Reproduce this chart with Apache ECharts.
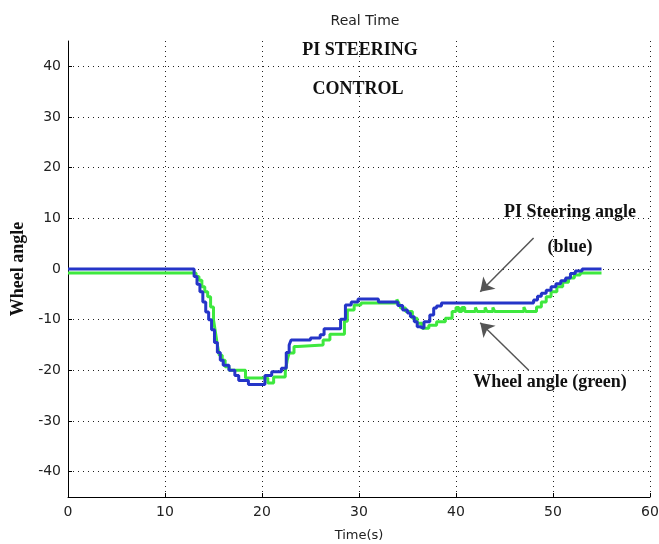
<!DOCTYPE html>
<html>
<head>
<meta charset="utf-8">
<script src="https://cdn.jsdelivr.net/npm/echarts@6/dist/echarts.min.js"></script>
<style>
    html, body { margin: 0; padding: 0; background: #fff; }
    #chart { width: 659px; height: 544px; }
</style>
</head>
<body>
<div id="chart"></div>
<script>
// PI steering angle (blue), [time, angle], held until next point
var blueTime = [0, 13.0, 13.3, 13.6, 13.9, 14.2, 14.5, 14.8, 15.1, 15.4, 15.7, 16.0, 16.6, 17.2, 17.6, 18.6,
    20.3, 21.0, 22.0, 22.5, 22.8, 23.0, 25.0, 26.0, 26.4, 28.1, 28.6, 29.2, 29.9, 32.0, 34.0, 34.5,
    35.0, 35.3, 35.7, 36.0, 36.3, 36.7, 37.3, 37.7, 38.0, 38.5, 48.0, 48.4, 48.8, 49.3, 49.8, 50.3,
    50.8, 51.3, 51.8, 52.3, 53.0, 55.0];
var blueAngle = [0, -1.5, -3, -4.5, -6.5, -8.5, -10, -12, -14.5, -16.5, -18, -19, -20, -21, -22, -22.8,
    -21, -20.3, -19.6, -16.5, -15, -14, -13.6, -13, -11.8, -9.9, -7.1, -6.5, -5.9, -6.5, -7.2, -8.1,
    -8.7, -9.4, -10.4, -11.4, -11.7, -10.4, -9.1, -7.7, -7.3, -6.7, -6.1, -5.4, -4.8, -4.2, -3.5, -2.9,
    -2.3, -1.8, -0.9, -0.4, 0, 0];

// wheel angle (green)
var greenTime = [0, 13.2, 13.5, 13.8, 14.1, 14.4, 14.7, 15.0, 15.2, 15.4, 15.6, 15.9, 16.2, 16.6, 18.3,
    20.6, 21.2, 22.4, 22.6, 22.8, 23.3, 23.7, 26.3, 27.0, 28.5, 28.8, 29.5, 30.2, 33.9, 34.1, 34.3,
    34.8, 35.5, 36.0, 36.5, 37.2, 38.0, 38.9, 39.6, 40.0, 40.3, 40.6, 40.9, 42.0, 42.2, 43.0, 43.2,
    43.8, 44.0, 47.0, 47.2, 48.3, 48.8, 49.3, 49.8, 50.4, 51.0, 51.6, 52.2, 52.8, 55.0];
var greenAngle = [-0.8, -1.5, -2.2, -3.5, -4.5, -5.5, -7.5, -10, -12.5, -15, -17, -18, -19.3, -20, -21.5,
    -22.5, -21.3, -20.3, -18, -16.6, -15.3, -15, -14, -12.9, -10.3, -8.1, -7.1, -6.7, -6.0, -6.7, -7.7,
    -8.4, -9.7, -10.7, -11.7, -11.1, -10.4, -9.7, -8.4, -7.6, -8.4, -7.6, -8.4, -7.6, -8.4, -7.6, -8.4,
    -7.6, -8.4, -7.5, -8.4, -7.5, -6.5, -5.5, -4.5, -3.5, -2.6, -1.8, -1.2, -0.8, -0.8];

var xTicks = [0, 10, 20, 30, 40, 50, 60];
var yTicks = [-40, -30, -20, -10, 0, 10, 20, 30, 40];

function pairs(xs, ys) {
    var out = [];
    for (var i = 0; i < xs.length; i++) out.push([xs[i], ys[i]]);
    return out;
}

var chart = echarts.init(document.getElementById('chart'));
var sans = '"DejaVu Sans", Arial, sans-serif';
var serif = '"Liberation Serif", "Times New Roman", serif';
var dotted = { color: '#222', width: 1, type: [1, 4] };

var option = {
    animation: false,
    backgroundColor: '#fff',
    title: {
        text: 'Real Time',
        left: 360, top: 9, textAlign: 'center',
        textStyle: { fontFamily: sans, fontSize: 14, fontWeight: 'normal', color: '#222' }
    },
    grid: { left: 68, right: 9, top: 41, bottom: 47, outerBoundsMode: 'none', containLabel: false },
    xAxis: {
        type: 'value', min: 0, max: 60,
        name: 'Time(s)', nameLocation: 'middle', nameGap: 32,
        nameTextStyle: { fontFamily: sans, fontSize: 13, color: '#222' },
        axisLine: { show: true, onZero: false, lineStyle: { color: '#000', width: 1 } },
        axisTick: { show: true, inside: true, length: 4, customValues: xTicks, lineStyle: { color: '#000' } },
        axisLabel: { fontFamily: sans, fontSize: 14, color: '#222', margin: 8, customValues: xTicks },
        splitLine: { show: true, lineStyle: dotted }
    },
    yAxis: {
        type: 'value', min: -45, max: 45,
        name: 'Wheel angle', nameLocation: 'middle', nameGap: 41,
        nameTextStyle: { fontFamily: serif, fontSize: 18, fontWeight: 'bold', color: '#111' },
        axisLine: { show: true, onZero: false, lineStyle: { color: '#000', width: 1 } },
        axisTick: { show: true, inside: true, length: 4, customValues: yTicks, lineStyle: { color: '#000' } },
        axisLabel: { fontFamily: sans, fontSize: 14, color: '#222', margin: 7, customValues: yTicks },
        splitLine: { show: true, lineStyle: dotted }
    },
    series: [
        {
            name: 'Wheel angle', type: 'line', step: 'end', symbol: 'none',
            data: pairs(greenTime, greenAngle),
            lineStyle: { color: '#3ee83e', width: 3 },
            z: 3
        },
        {
            name: 'PI Steering angle', type: 'line', step: 'end', symbol: 'none',
            data: pairs(blueTime, blueAngle),
            lineStyle: { color: '#2535c8', width: 3 },
            z: 4,
            markLine: {
                silent: true,
                symbol: ['none', 'arrow'],
                symbolSize: 13,
                label: { show: false },
                lineStyle: { color: '#555', width: 1.5, type: 'solid' },
                data: [
                    [{ coord: [48.0, 6.1] }, { coord: [42.5, -4.5] }],
                    [{ coord: [47.5, -20.0] }, { coord: [42.5, -10.6] }]
                ]
            }
        }
    ],
    graphic: [
        { type: 'text', x: 360, y: 50, style: { text: 'PI STEERING', font: 'bold 18px ' + serif, fill: '#111', textAlign: 'center', textVerticalAlign: 'middle' } },
        { type: 'text', x: 358, y: 89, style: { text: 'CONTROL', font: 'bold 18px ' + serif, fill: '#111', textAlign: 'center', textVerticalAlign: 'middle' } },
        { type: 'text', x: 570, y: 212, style: { text: 'PI Steering angle', font: 'bold 18px ' + serif, fill: '#111', textAlign: 'center', textVerticalAlign: 'middle' } },
        { type: 'text', x: 570, y: 247, style: { text: '(blue)', font: 'bold 18px ' + serif, fill: '#111', textAlign: 'center', textVerticalAlign: 'middle' } },
        { type: 'text', x: 550, y: 382, style: { text: 'Wheel angle (green)', font: 'bold 18px ' + serif, fill: '#111', textAlign: 'center', textVerticalAlign: 'middle' } }
    ]
};

chart.setOption(option);
</script>
</body>
</html>
